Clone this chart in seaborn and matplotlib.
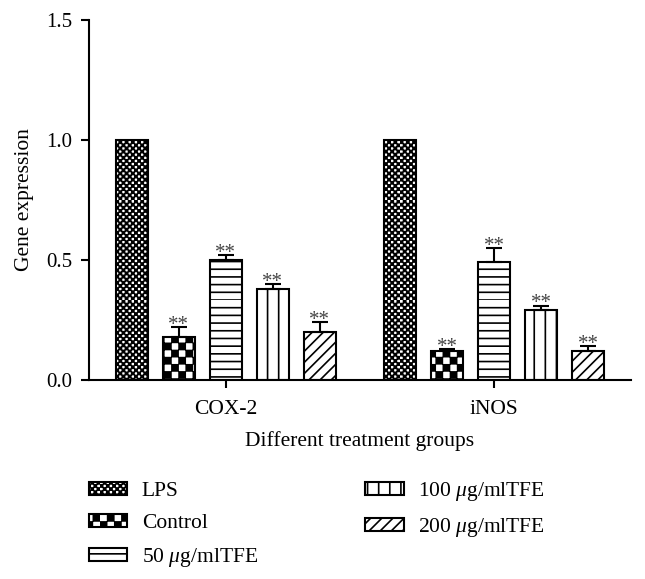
import numpy as np
import pandas as pd
import matplotlib
matplotlib.use("Agg")
import matplotlib.pyplot as plt
import matplotlib.hatch as mhatch
from matplotlib.path import Path
import seaborn as sns

# ---------------- data ----------------
genes = ["COX-2", "iNOS"]
groups = ["LPS", "Control", r"50 $\mu$g/mlTFE", r"100 $\mu$g/mlTFE", r"200 $\mu$g/mlTFE"]
cox2_mean = [1.00, 0.18, 0.50, 0.38, 0.20]
cox2_err = [0.00, 0.04, 0.02, 0.02, 0.04]
inos_mean = [1.00, 0.12, 0.49, 0.29, 0.12]
inos_err = [0.00, 0.01, 0.06, 0.02, 0.02]
stars = ["", "**", "**", "**", "**"]
yticks = [0.0, 0.5, 1.0, 1.5]
hatches = ["o", "O", "-", "|", "///"]

df = pd.DataFrame({
    "gene": np.repeat(genes, len(groups)),
    "group": groups * len(genes),
    "value": cox2_mean + inos_mean,
    "err": cox2_err + inos_err,
})

# ---------------- custom hatch patterns ----------------
HATCH = {"vphase": 0.0}


class Checker(mhatch.HatchPatternBase):
    def __init__(self, hatch, density, char="o", n=32, inset=0.006):
        self.n = n if char in hatch else 0
        self.inset = inset
        self.num_vertices = (self.n * self.n // 2) * 5

    def set_vertices_and_codes(self, vertices, codes):
        n = self.n
        s = 1.0 / n
        k = 0
        for i in range(n):
            for j in range(n):
                if (i + j) % 2 == 0:
                    x0, x1 = i * s + self.inset, (i + 1) * s - self.inset
                    y0, y1 = j * s + self.inset, (j + 1) * s - self.inset
                    vertices[k:k + 5] = [(x0, y0), (x1, y0), (x1, y1), (x0, y1), (x0, y0)]
                    codes[k:k + 5] = [Path.MOVETO, Path.LINETO, Path.LINETO,
                                      Path.LINETO, Path.CLOSEPOLY]
                    k += 5


class FineChecker(Checker):
    def __init__(self, hatch, density):
        super().__init__(hatch, density, char="o", n=32, inset=0.0045)


class CoarseChecker(Checker):
    def __init__(self, hatch, density):
        super().__init__(hatch, density, char="O", n=14, inset=0.005)


class HLines(mhatch.HatchPatternBase):
    def __init__(self, hatch, density):
        self.num_lines = 13 if "-" in hatch else 0
        self.num_vertices = self.num_lines * 2

    def set_vertices_and_codes(self, vertices, codes):
        ys = np.arange(self.num_lines) / self.num_lines
        vertices[0::2, 0] = 0.0
        vertices[0::2, 1] = ys
        vertices[1::2, 0] = 1.0
        vertices[1::2, 1] = ys
        codes[0::2] = Path.MOVETO
        codes[1::2] = Path.LINETO


class VLines(mhatch.HatchPatternBase):
    def __init__(self, hatch, density):
        self.num_lines = 9 if "|" in hatch else 0
        self.num_vertices = self.num_lines * 2

    def set_vertices_and_codes(self, vertices, codes):
        xs = (np.arange(self.num_lines) + HATCH["vphase"]) / self.num_lines
        vertices[0::2, 0] = xs
        vertices[0::2, 1] = 0.0
        vertices[1::2, 0] = xs
        vertices[1::2, 1] = 1.0
        codes[0::2] = Path.MOVETO
        codes[1::2] = Path.LINETO


mhatch._hatch_types[:] = [HLines, VLines, mhatch.NorthEastHatch,
                          mhatch.SouthEastHatch, FineChecker, CoarseChecker]


def clear_hatch_cache():
    for f in (getattr(Path, "hatch", None), getattr(mhatch, "get_path", None)):
        if f is not None and hasattr(f, "cache_clear"):
            f.cache_clear()


# ---------------- style ----------------
sns.set_theme(style="ticks")
plt.rcParams["font.family"] = ["Liberation Serif", "DejaVu Serif"]
plt.rcParams["mathtext.fontset"] = "custom"
plt.rcParams["mathtext.rm"] = "Liberation Serif"
plt.rcParams["mathtext.it"] = "Liberation Serif:italic"
plt.rcParams["hatch.linewidth"] = 1.2
plt.rcParams["hatch.color"] = "black"
for key in ["text.color", "axes.labelcolor", "xtick.color", "ytick.color", "axes.edgecolor"]:
    plt.rcParams[key] = "black"

FS = 15.5

fig = plt.figure(figsize=(6.45, 5.79), dpi=100)
ax = fig.add_axes([89 / 645, 1 - 380 / 579, (631 - 89) / 645, 360 / 579])

sns.barplot(data=df, x="gene", y="value", hue="group", order=genes,
            hue_order=groups, palette=["white"] * len(groups), saturation=1,
            edgecolor="black", linewidth=1.5, width=0.877, gap=0.32,
            errorbar=None, legend=False, ax=ax)

ax.set_xlim(-0.51, 1.51)
ax.set_ylim(0, 1.5)
ax.set_yticks(yticks)
ax.set_yticklabels([f"{t:.1f}" for t in yticks])
sns.despine(ax=ax)
for s in ["left", "bottom"]:
    ax.spines[s].set_linewidth(1.5)
ax.tick_params(axis="both", direction="out", length=5.7, width=1.5)
ax.tick_params(axis="y", pad=6.5, labelsize=15)
ax.tick_params(axis="x", pad=8.5, labelsize=FS)

for cont, h in zip(ax.containers, hatches):
    for bar in cont:
        bar.set_hatch(h)

# error bars and significance marks
xs, tops, errs = [], [], []
for gi, cont in enumerate(ax.containers):
    for ci, bar in enumerate(cont):
        gene = genes[ci]
        row = df[(df["gene"] == gene) & (df["group"] == groups[gi])].iloc[0]
        x = bar.get_x() + bar.get_width() / 2
        if row["err"] > 0:
            xs.append(x)
            tops.append(row["value"])
            errs.append(row["err"])
        if stars[gi]:
            ax.text(x, row["value"] + row["err"] - 0.012, stars[gi], ha="center",
                    va="baseline", fontsize=15, color="#444444")
ax.errorbar(xs, tops, yerr=[np.zeros(len(errs)), errs], fmt="none",
            ecolor="black", elinewidth=1.5, capsize=6, capthick=1.5, zorder=5)

ax.set_ylabel("Gene expression", fontsize=FS)
ax.yaxis.set_label_coords((34 - 89) / 542, 0.5)
ax.set_xlabel("Different treatment groups", fontsize=FS)
ax.xaxis.set_label_coords(0.5, (380 - 431) / 360)

handles = [cont[0] for cont in ax.containers]
fig.legend(handles, groups, loc="upper left", bbox_to_anchor=(89 / 645, 1 - 480 / 579),
           ncol=2, frameon=False, fontsize=FS, handlelength=1.77, handleheight=0.51,
           handletextpad=0.68, columnspacing=5.0, labelspacing=0.61, borderpad=0,
           borderaxespad=0)

# phase of the vertical hatch so its lines split the bars in thirds
b = ax.containers[3][0]
left_px = ax.transData.transform((b.get_x(), 0))[0]
w_px = ax.transData.transform((b.get_x() + b.get_width(), 0))[0] - left_px
HATCH["vphase"] = ((left_px + w_px / 3) % (100 / 9)) / (100 / 9)
clear_hatch_cache()

fig.savefig("out.png", dpi=100)
